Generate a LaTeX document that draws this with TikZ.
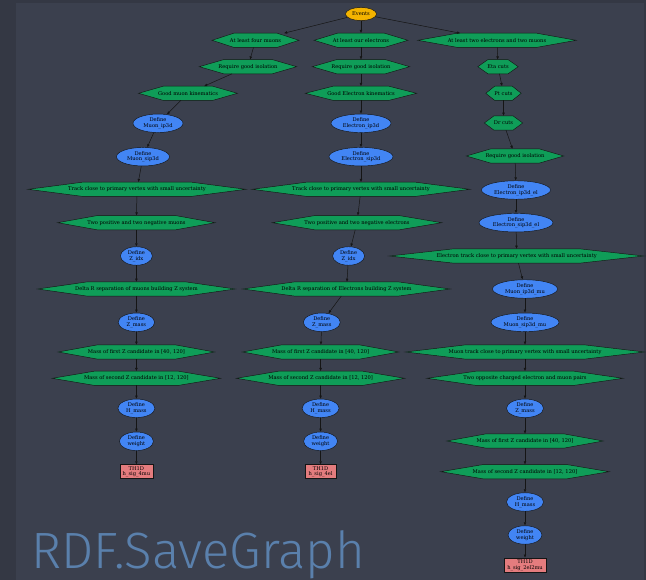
\documentclass[tikz,border=0pt]{standalone}
\usepackage{fontspec}
\newfontfamily\nodefont{DejaVu Serif}
\newfontfamily\titlefont{Fira Sans}[UprightFont={* Light}]
\usetikzlibrary{shapes.geometric,arrows.meta,calc}
\pgfdeclarelayer{panel}
\pgfdeclarelayer{hexes}
\pgfsetlayers{panel,hexes,main}

\definecolor{outerbg}{HTML}{343844}
\definecolor{panelbg}{HTML}{3B404E}
\definecolor{rootcol}{HTML}{F4B400}
\definecolor{filtercol}{HTML}{0F9D58}
\definecolor{definecol}{HTML}{4285F4}
\definecolor{actioncol}{HTML}{E47C7E}
\definecolor{titlecol}{HTML}{5A80AC}
\definecolor{edgecol}{HTML}{151515}

\tikzset{
  base/.style={font=\nodefont\fontsize{5.15}{5.8}\selectfont, inner sep=0pt, align=center, text=black},
  % filters: the hexagon outline is drawn on its own layer around the node box
  filt/.style={base, rectangle, minimum height=13.8pt},
  hexline/.style={fill=filtercol, draw=edgecol, line width=0.45pt, line join=miter},
  defn/.style={base, ellipse, draw=edgecol, line width=0.45pt, fill=definecol, minimum height=18.5pt},
  act/.style={base, rectangle, draw=edgecol, line width=0.45pt, fill=actioncol, minimum height=14pt},
  rootnode/.style={base, ellipse, draw=edgecol, line width=0.45pt, fill=rootcol, minimum width=31pt, minimum height=13pt},
  flow/.style={-{Triangle[length=3pt,width=2.4pt]}, line width=0.5pt, edgecol, shorten >=0.2pt},
}

\newcommand\hexof[1]{%
  \filldraw[hexline] (#1.west)
    -- ($(#1.north west)!0.25!(#1.north east)$)
    -- ($(#1.north west)!0.75!(#1.north east)$)
    -- (#1.east)
    -- ($(#1.south west)!0.75!(#1.south east)$)
    -- ($(#1.south west)!0.25!(#1.south east)$)
    -- cycle;}

\begin{document}
\begin{tikzpicture}[x=1pt, y=-1pt]
\useasboundingbox (0,0) rectangle (646,580);

\begin{pgfonlayer}{panel}
  \fill[outerbg] (0,0) rectangle (646,580);
  \fill[panelbg] (16,3) rectangle (644,580);
\end{pgfonlayer}

% root
\node[rootnode] (ev) at (361,14) {Events};

% four-muon branch
\node[filt, minimum width=86.5pt] (a1) at (255.5,40.3) {At least four muons};
\node[filt, minimum width=97pt]   (a2) at (248,66.7)  {Require good isolation};
\node[filt, minimum width=98.5pt] (a3) at (188,93.3)  {Good muon kinematics};
\node[defn, minimum width=50pt]   (a4) at (158,123.3) {Define\\Muon\_ip3d};
\node[defn, minimum width=53pt]   (a5) at (143,156.7) {Define\\Muon\_sip3d};
\node[filt, minimum width=217.5pt] (a6) at (137,189.3) {Track close to primary vertex with small uncertainty};
\node[filt, minimum width=157pt]  (a7) at (136.4,222.7) {Two positive and two negative muons};
\node[defn, minimum width=32pt]   (a8) at (136.4,256) {Define\\Z\_idx};
\node[filt, minimum width=197pt]  (a9) at (136.4,289) {Delta R separation of muons building Z system};
\node[defn, minimum width=36.5pt] (a10) at (136.4,322.3) {Define\\Z\_mass};
\node[filt, minimum width=156pt]  (a11) at (136.4,352) {Mass of first Z candidate in [40, 120]};
\node[filt, minimum width=168pt]  (a12) at (136.4,378.3) {Mass of second Z candidate in [12, 120]};
\node[defn, minimum width=37pt]   (a13) at (136.4,408.3) {Define\\H\_mass};
\node[defn, minimum width=34pt]   (a14) at (136.4,441.3) {Define\\weight};
\node[act, minimum width=33pt]    (a15) at (136.4,471.7) {TH1D\\h\_sig\_4mu};

% four-electron branch
\node[filt, minimum width=93.5pt] (b1) at (361,40.3) {At least our electrons};
\node[filt, minimum width=97pt]   (b2) at (361,66.7) {Require good isolation};
\node[filt, minimum width=111pt]  (b3) at (361,93.3) {Good Electron kinematics};
\node[defn, minimum width=60pt]   (b4) at (361,123.3) {Define\\Electron\_ip3d};
\node[defn, minimum width=64pt]   (b5) at (361,156.7) {Define\\Electron\_sip3d};
\node[filt, minimum width=217.5pt] (b6) at (361,189.3) {Track close to primary vertex with small uncertainty};
\node[filt, minimum width=169pt]  (b7) at (357,222.7) {Two positive and two negative electrons};
\node[defn, minimum width=32pt]   (b8) at (348.6,256) {Define\\Z\_idx};
\node[filt, minimum width=207pt]  (b9) at (346.5,289) {Delta R separation of Electrons building Z system};
\node[defn, minimum width=37pt]   (b10) at (321.8,322.3) {Define\\Z\_mass};
\node[filt, minimum width=156pt]  (b11) at (320.6,352) {Mass of first Z candidate in [40, 120]};
\node[filt, minimum width=168pt]  (b12) at (320.6,378.3) {Mass of second Z candidate in [12, 120]};
\node[defn, minimum width=37pt]   (b13) at (320.6,408.3) {Define\\H\_mass};
\node[defn, minimum width=34pt]   (b14) at (320.6,441.3) {Define\\weight};
\node[act, minimum width=31pt]    (b15) at (320.6,471.7) {TH1D\\h\_sig\_4el};

% mixed branch
\node[filt, minimum width=158pt]  (c1) at (497,40.3) {At least two electrons and two muons};
\node[filt, minimum width=40pt]   (c2) at (498,66.7) {Eta cuts};
\node[filt, minimum width=35pt]   (c3) at (503.5,93.3) {Pt cuts};
\node[filt, minimum width=38pt]   (c4) at (503.5,123) {Dr cuts};
\node[filt, minimum width=97pt]   (c5) at (515,156) {Require good isolation};
\node[defn, minimum width=69pt]   (c6) at (516,190) {Define\\Electron\_ip3d\_el};
\node[defn, minimum width=74pt]   (c7) at (516,222.7) {Define\\Electron\_sip3d\_el};
\node[filt, minimum width=254pt]  (c8) at (516.7,256) {Electron track close to primary vertex with small uncertainty};
\node[defn, minimum width=65pt]   (c9) at (525,289) {Define\\Muon\_ip3d\_mu};
\node[defn, minimum width=68pt]   (c10) at (525,322.3) {Define\\Muon\_sip3d\_mu};
\node[filt, minimum width=238.6pt] (c11) at (525,352) {Muon track close to primary vertex with small uncertainty};
\node[filt, minimum width=195.7pt] (c12) at (525,378.3) {Two opposite charged electron and muon pairs};
\node[defn, minimum width=37pt]   (c13) at (525,408.3) {Define\\Z\_mass};
\node[filt, minimum width=156pt]  (c14) at (525,441) {Mass of first Z candidate in [40, 120]};
\node[filt, minimum width=168pt]  (c15) at (525,471.7) {Mass of second Z candidate in [12, 120]};
\node[defn, minimum width=37pt]   (c16) at (525,502) {Define\\H\_mass};
\node[defn, minimum width=34pt]   (c17) at (525,535) {Define\\weight};
\node[act, minimum width=41.6pt]  (c18) at (525,565) {TH1D\\h\_sig\_2el2mu};

% hexagon outlines of the filter nodes
\begin{pgfonlayer}{hexes}
  \foreach \n in {a1,a2,a3,a6,a7,a9,a11,a12,
                  b1,b2,b3,b6,b7,b9,b11,b12,
                  c1,c2,c3,c4,c5,c8,c11,c12,c14,c15}{\hexof{\n}}
\end{pgfonlayer}

% connectors
\draw[flow] (ev) -- (a1);
\draw[flow] (ev) -- (b1);
\draw[flow] (ev) -- (c1);
\foreach \i in {1,...,14}{\pgfmathtruncatemacro\j{\i+1}\draw[flow] (a\i) -- (a\j);}
\foreach \i in {1,...,14}{\pgfmathtruncatemacro\j{\i+1}\draw[flow] (b\i) -- (b\j);}
\foreach \i in {1,...,17}{\pgfmathtruncatemacro\j{\i+1}\draw[flow] (c\i) -- (c\j);}

% caption
\node[anchor=base west, inner sep=0pt, text=titlecol,
      font=\titlefont\fontsize{51}{51}\selectfont] (title) at (31,568) {RDF.SaveGraph};
\end{tikzpicture}
\end{document}
